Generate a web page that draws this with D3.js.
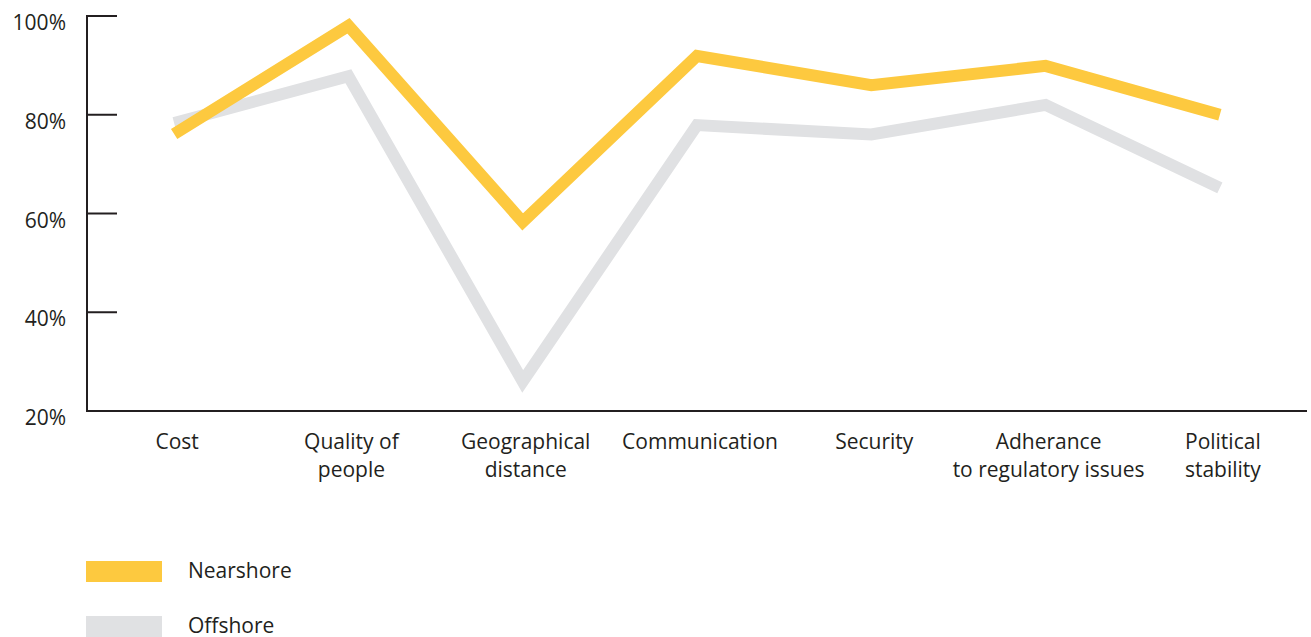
<!DOCTYPE html>
<html>
<head>
<meta charset="utf-8">
<script src="https://cdn.jsdelivr.net/npm/d3@7"></script>
<style>
  body { margin: 0; background: #fff; }
  text { font-family: "Open Sans", "Noto Sans", sans-serif; fill: #231f20; }
</style>
</head>
<body>
<svg id="chart" width="1311" height="637"></svg>
<script>
const categories = [
    ["Cost"],
    ["Quality of", "people"],
    ["Geographical", "distance"],
    ["Communication"],
    ["Security"],
    ["Adherance", "to regulatory issues"],
    ["Political", "stability"]
]
const nearshore = [76.1, 98.0, 58.3, 91.9, 86.0, 89.9, 80.0]
const offshore = [78.3, 87.8, 26.0, 77.9, 76.0, 82.0, 65.2]
const yTicks = [20, 40, 60, 80, 100]
const seriesNames = ["Nearshore", "Offshore"]
const colors = {
    "Nearshore": "#fdc93f",
    "Offshore": "#e0e1e3"
}

const svg = d3.select('#chart')

const x = d3.scalePoint()
    .domain(categories.map(d => d.join(' ')))
    .range([87, 1307])
    .padding(0.5)

const y = d3.scaleLinear()
    .domain([20, 100])
    .range([411, 16])

// lines first, axes drawn on top
const line = d3.line()
    .x((d, i) => x(categories[i].join(' ')))
    .y(d => y(d))

const series = [
    {name: "Offshore", values: offshore},
    {name: "Nearshore", values: nearshore}
]

svg.selectAll('path.series')
    .data(series)
    .enter()
    .append('path')
    .attr('class', 'series')
    .attr('d', d => line(d.values))
    .attr('fill', 'none')
    .attr('stroke', d => colors[d.name])
    .attr('stroke-width', 12)
    .attr('stroke-linejoin', 'miter')
    .attr('stroke-miterlimit', 10)
    .attr('stroke-linecap', 'butt')

// y axis: vertical line with short ticks going right
svg.append('line')
    .attr('x1', 87).attr('x2', 87)
    .attr('y1', y(100) - 1).attr('y2', y(20) + 1)
    .attr('stroke', '#231f20').attr('stroke-width', 2)

svg.selectAll('line.ytick')
    .data(yTicks)
    .enter()
    .append('line')
    .attr('class', 'ytick')
    .attr('x1', 86).attr('x2', 117)
    .attr('y1', d => y(d)).attr('y2', d => y(d))
    .attr('stroke', '#231f20').attr('stroke-width', 2)

svg.selectAll('text.ylabel')
    .data(yTicks)
    .enter()
    .append('text')
    .attr('class', 'ylabel')
    .attr('x', 66)
    .attr('y', d => y(d) + 14)
    .attr('text-anchor', 'end')
    .style('font-size', '21px')
    .text(d => d + '%')

// x axis
svg.append('line')
    .attr('x1', 86).attr('x2', 1307)
    .attr('y1', y(20)).attr('y2', y(20))
    .attr('stroke', '#231f20').attr('stroke-width', 2)

const xLabels = svg.selectAll('text.xlabel')
    .data(categories)
    .enter()
    .append('text')
    .attr('class', 'xlabel')
    .attr('text-anchor', 'middle')
    .style('font-size', '21px')

xLabels.selectAll('tspan')
    .data(d => d.map(t => ({t: t, key: d.join(' ')})))
    .enter()
    .append('tspan')
    .attr('x', d => x(d.key) + 3)
    .attr('y', (d, i) => 449 + i * 28)
    .text(d => d.t)

// handmade legend
const legend = svg.selectAll('g.legend')
    .data(seriesNames)
    .enter()
    .append('g')
    .attr('class', 'legend')
    .attr('transform', (d, i) => `translate(86, ${561 + i * 55})`)

legend.append('rect')
    .attr('width', 76).attr('height', 21)
    .attr('fill', d => colors[d])

legend.append('text')
    .attr('x', 102).attr('y', 17)
    .style('font-size', '21px')
    .text(d => d)
</script>
</body>
</html>
